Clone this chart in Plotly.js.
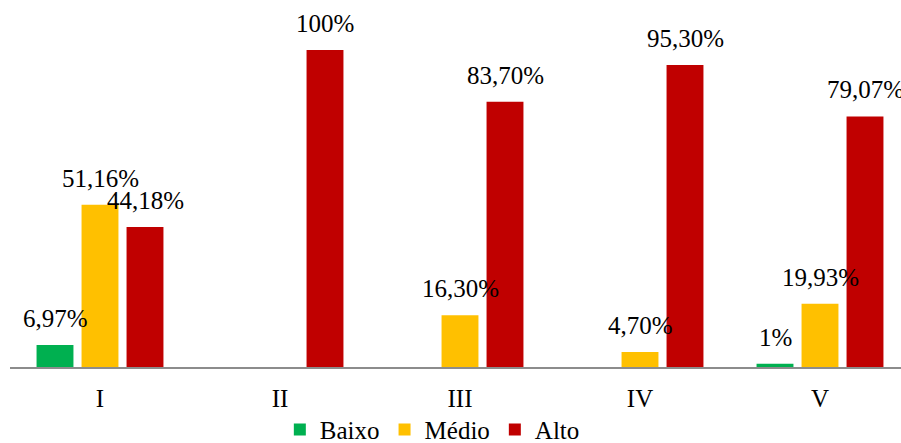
<!DOCTYPE html>
<html>
<head>
<meta charset="utf-8">
<script src="https://cdn.plot.ly/plotly-3.0.1.min.js"></script>
<style>html,body{margin:0;padding:0;background:#fff;}#chart{width:901px;height:443px;}</style>
</head>
<body>
<div id="chart"></div>
<script>
const categories = ['I', 'II', 'III', 'IV', 'V'];
const seriesNames = ['Baixo', 'Médio', 'Alto'];
const baixo = [6.97, null, null, null, 1];
const medio = [51.16, null, 16.30, 4.70, 19.93];
const alto = [44.18, 100, 83.70, 95.30, 79.07];
const colors = ['#00B050', '#FFC000', '#C00000'];

const series = [baixo, medio, alto];
const FONT = 'Liberation Serif';

function fmt(v) {
  return Number.isInteger(v) ? v + '%' : v.toFixed(2).replace('.', ',') + '%';
}

const traces = series.map((vals, i) => ({
  type: 'bar',
  name: seriesNames[i],
  x: categories,
  y: vals,
  marker: { color: colors[i], line: { width: 0 } },
  hoverinfo: 'none'
}));

const slotPx = 45;
const annotations = [];
series.forEach((vals, i) => {
  vals.forEach((v, j) => {
    if (v === null || v === undefined) return;
    annotations.push({
      x: categories[j], y: v, xref: 'x', yref: 'y',
      text: fmt(v), showarrow: false,
      xanchor: 'center', yanchor: 'bottom',
      xshift: (i - 1) * slotPx, yshift: 11,
      font: { family: FONT, size: 25, color: '#000' }
    });
  });
});

const layout = {
  width: 901, height: 443,
  margin: { l: 10, r: 0, t: 0, b: 76, autoexpand: false },
  paper_bgcolor: '#fff', plot_bgcolor: '#fff',
  barmode: 'group', bargap: 0.25, bargroupgap: 0.18,
  showlegend: true,
  legend: {
    orientation: 'h', x: 0.474, xanchor: 'center', y: -0.171, yanchor: 'middle',
    font: { family: FONT, size: 25, color: '#000' },
    itemwidth: 30, traceorder: 'normal'
  },
  xaxis: {
    type: 'category', range: [-0.5, 4.45],
    showline: true, linecolor: '#8c8c8c', linewidth: 1.5,
    ticks: '', showgrid: false, zeroline: false, ticklabelstandoff: 8,
    tickfont: { family: FONT, size: 25, color: '#000' }
  },
  yaxis: {
    range: [0, 115.8], visible: false, showgrid: false, zeroline: false
  },
  annotations: annotations,
  font: { family: FONT, color: '#000' }
};

Plotly.newPlot('chart', traces, layout, { displayModeBar: false, staticPlot: true });
</script>
</body>
</html>
